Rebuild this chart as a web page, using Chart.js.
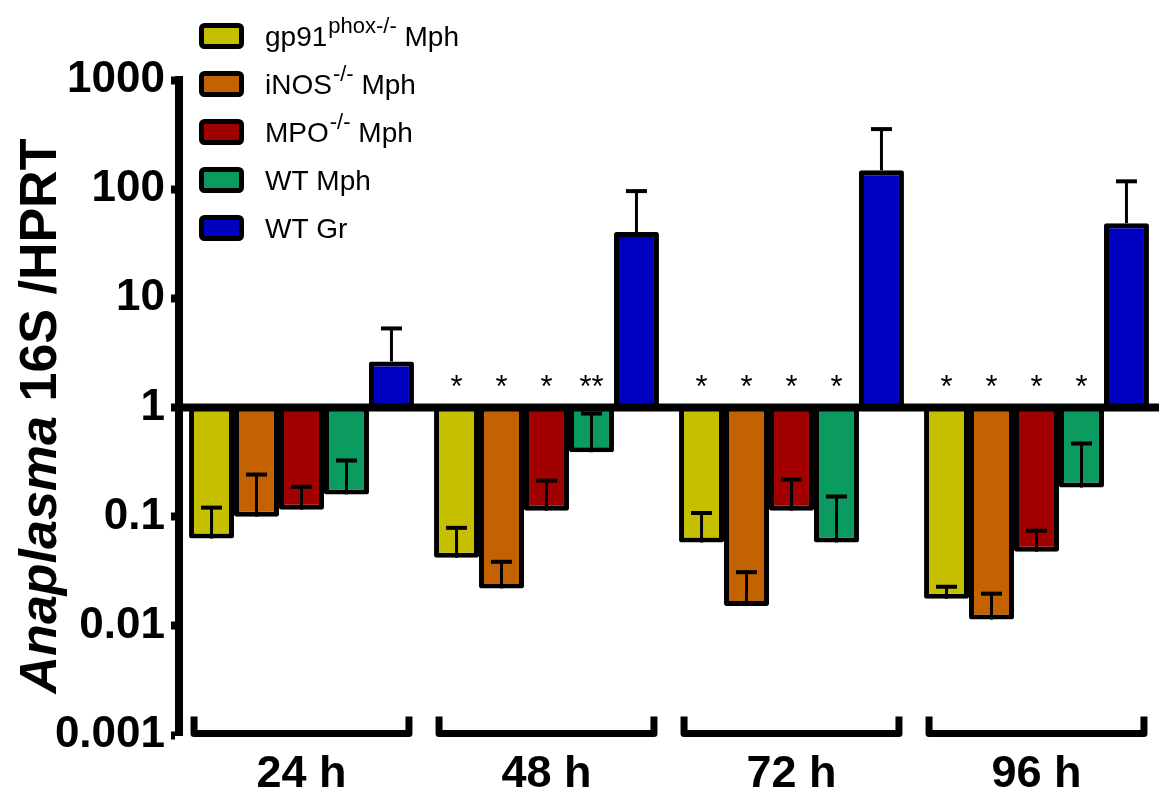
<!DOCTYPE html>
<html lang="en">
<head>
  <meta charset="UTF-8">
  <title>Anaplasma 16S / HPRT</title>
  <script src="https://cdn.jsdelivr.net/npm/chart.js@4"></script>
  <style>
    html, body { margin: 0; padding: 0; background: #fff; overflow: hidden; }
    #wrap { width: 1159px; height: 790px; }
  </style>
</head>
<body>
  <div id="wrap"><canvas id="chart" width="1159" height="790"></canvas></div>

  <script>
    // categories and tick labels
    const timepoints = ['24 h', '48 h', '72 h', '96 h'];
    const yTickValues = [0.001, 0.01, 0.1, 1, 10, 100, 1000];
    const yTickLabels = ['0.001', '0.01', '0.1', '1', '10', '100', '1000'];

    // means (bars grow from 1) and the end of each error bar
    const gp91Mean = [0.063, 0.042, 0.058, 0.0177];
    const gp91Err = [0.121, 0.079, 0.108, 0.0228];
    const inosMean = [0.100, 0.022, 0.0152, 0.0114];
    const inosErr = [0.243, 0.0386, 0.031, 0.0197];
    const mpoMean = [0.116, 0.1135, 0.1135, 0.0477];
    const mpoErr = [0.188, 0.214, 0.219, 0.0744];
    const wtMphMean = [0.160, 0.389, 0.058, 0.1846];
    const wtMphErr = [0.327, 0.88, 0.153, 0.468];
    const wtGrMean = [2.64, 40.5, 149, 48.8];
    const wtGrErr = [5.3, 96, 355, 118];

    // significance marks
    const gp91Stars = ['', '*', '*', '*'];
    const inosStars = ['', '*', '*', '*'];
    const mpoStars = ['', '*', '*', '*'];
    const wtMphStars = ['', '**', '*', '*'];
    const wtGrStars = ['', '', '', ''];

    // legend text: [main, superscript, tail]
    const legendText = [
      ['gp91', 'phox-/-', ' Mph'],
      ['iNOS', '-/-', ' Mph'],
      ['MPO', '-/-', ' Mph'],
      ['WT Mph', '', ''],
      ['WT Gr', '', '']
    ];

    const FONT = '"Liberation Sans", Arial, Helvetica, sans-serif';

    function series(label, data, err, stars, color) {
      return {
        label: label,
        data: data,
        errEnd: err,
        stars: stars,
        base: 1,
        backgroundColor: color,
        borderColor: '#000',
        borderWidth: 5,
        borderRadius: 2,
        borderSkipped: 'start'
      };
    }

    // error bars, baseline at 1 and the asterisks
    const overlayPlugin = {
      id: 'overlay',
      afterDatasetsDraw(chart) {
        const ctx = chart.ctx;
        const y = chart.scales.y;
        const area = chart.chartArea;
        ctx.save();
        ctx.strokeStyle = '#000';
        chart.data.datasets.forEach((ds, i) => {
          chart.getDatasetMeta(i).data.forEach((bar, j) => {
            const yErr = y.getPixelForValue(ds.errEnd[j]);
            ctx.lineWidth = 3;
            ctx.beginPath();
            ctx.moveTo(bar.x, bar.y);
            ctx.lineTo(bar.x, yErr);
            ctx.stroke();
            ctx.lineWidth = 4;
            ctx.beginPath();
            ctx.moveTo(bar.x - 10.5, yErr);
            ctx.lineTo(bar.x + 10.5, yErr);
            ctx.stroke();
          });
        });

        const y1 = y.getPixelForValue(1);
        ctx.lineWidth = 8;
        ctx.beginPath();
        ctx.moveTo(area.left, y1);
        ctx.lineTo(chart.width, y1);
        ctx.stroke();

        ctx.fillStyle = '#000';
        ctx.font = '31px ' + FONT;
        ctx.textAlign = 'center';
        ctx.textBaseline = 'alphabetic';
        chart.data.datasets.forEach((ds, i) => {
          chart.getDatasetMeta(i).data.forEach((bar, j) => {
            if (ds.stars[j]) ctx.fillText(ds.stars[j], bar.x, y1 - 11);
          });
        });
        ctx.restore();
      },
      afterDraw(chart) {
        const ctx = chart.ctx;
        const area = chart.chartArea;
        ctx.save();

        // group brackets under each time point
        const first = chart.getDatasetMeta(0).data;
        const last = chart.getDatasetMeta(chart.data.datasets.length - 1).data;
        ctx.strokeStyle = '#000';
        ctx.lineWidth = 7;
        ctx.lineJoin = 'round';
        first.forEach((bar, j) => {
          const l = bar.x - bar.width / 2 + 5;
          const r = last[j].x + last[j].width / 2 - 5;
          const yb = area.bottom - 1.5;
          ctx.beginPath();
          ctx.moveTo(l, yb - 17);
          ctx.lineTo(l, yb);
          ctx.lineTo(r, yb);
          ctx.lineTo(r, yb - 17);
          ctx.stroke();
        });

        // legend with superscripts
        chart.data.datasets.forEach((ds, i) => {
          const cy = 36 + i * 48;
          ctx.fillStyle = ds.backgroundColor;
          ctx.strokeStyle = '#000';
          ctx.lineWidth = 5;
          ctx.beginPath();
          ctx.roundRect(201.5, cy - 10.5, 40, 21, 3);
          ctx.fill();
          ctx.stroke();

          const parts = legendText[i];
          let x = 265;
          const base = cy + 10;
          ctx.fillStyle = '#000';
          ctx.textAlign = 'left';
          ctx.textBaseline = 'alphabetic';
          ctx.font = '28px ' + FONT;
          ctx.fillText(parts[0], x, base);
          x += ctx.measureText(parts[0]).width;
          if (parts[1]) {
            ctx.font = '22px ' + FONT;
            ctx.fillText(parts[1], x + 1, base - 13);
            x += ctx.measureText(parts[1]).width + 1;
          }
          if (parts[2]) {
            ctx.font = '28px ' + FONT;
            ctx.fillText(parts[2], x, base);
          }
        });

        // y axis title, genus name in italics
        const t1 = 'Anaplasma';
        const t2 = ' 16S /HPRT';
        const f1 = 'italic bold 52px ' + FONT;
        const f2 = 'bold 52px ' + FONT;
        ctx.font = f1;
        const w1 = ctx.measureText(t1).width;
        ctx.font = f2;
        const w2 = ctx.measureText(t2).width;
        ctx.translate(56, 416);
        ctx.rotate(-Math.PI / 2);
        ctx.fillStyle = '#000';
        ctx.textAlign = 'left';
        ctx.textBaseline = 'alphabetic';
        ctx.font = f1;
        ctx.fillText(t1, -(w1 + w2) / 2, 0);
        ctx.font = f2;
        ctx.fillText(t2, -(w1 + w2) / 2 + w1, 0);
        ctx.restore();
      }
    };

    const ctx = document.getElementById('chart').getContext('2d');
    new Chart(ctx, {
      type: 'bar',
      data: {
        labels: timepoints,
        datasets: [
          series('gp91phox-/- Mph', gp91Mean, gp91Err, gp91Stars, 'rgb(196,192,0)'),
          series('iNOS-/- Mph', inosMean, inosErr, inosStars, 'rgb(194,98,0)'),
          series('MPO-/- Mph', mpoMean, mpoErr, mpoStars, 'rgb(160,0,0)'),
          series('WT Mph', wtMphMean, wtMphErr, wtMphStars, 'rgb(11,155,96)'),
          series('WT Gr', wtGrMean, wtGrErr, wtGrStars, 'rgb(0,0,193)')
        ]
      },
      options: {
        responsive: false,
        animation: false,
        events: [],
        layout: { padding: { top: 80, right: 0, bottom: 0, left: 0 } },
        datasets: {
          bar: { categoryPercentage: 0.918, barPercentage: 1 }
        },
        plugins: {
          legend: { display: false },
          tooltip: { enabled: false },
          title: { display: false }
        },
        scales: {
          x: {
            offset: true,
            grid: { display: false },
            border: { display: false },
            ticks: {
              color: '#000',
              padding: 5,
              font: { family: FONT, size: 45, weight: 'bold', lineHeight: 1.2 }
            },
            afterFit(scale) { scale.height = 55; }
          },
          y: {
            type: 'logarithmic',
            min: 0.001,
            max: 1000,
            border: { display: true, color: '#000', width: 8 },
            grid: {
              drawOnChartArea: false,
              drawTicks: true,
              tickLength: 8,
              tickWidth: 8,
              tickColor: '#000'
            },
            afterBuildTicks(scale) {
              scale.ticks = yTickValues.map(v => ({ value: v }));
            },
            ticks: {
              color: '#000',
              padding: 6,
              autoSkip: false,
              font: { family: FONT, size: 44, weight: 'bold' },
              callback(value) {
                const k = yTickValues.indexOf(value);
                return k >= 0 ? yTickLabels[k] : '';
              }
            },
            afterFit(scale) { scale.width = 179; }
          }
        }
      },
      plugins: [overlayPlugin]
    });
  </script>
</body>
</html>
